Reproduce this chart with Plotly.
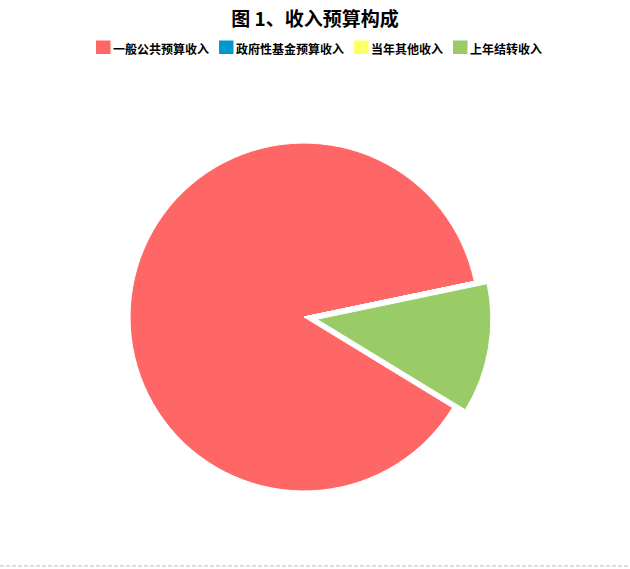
import plotly.graph_objects as go

categories = ["一般公共预算收入", "政府性基金预算收入", "当年其他收入", "上年结转收入"]
values = [88, 0, 0, 12]
colors = ["#FF6666", "#0099CC", "#FFFF66", "#99CC66"]
pulls = [0, 0, 0, 0.075]

W, H = 630, 569

fig = go.Figure(go.Pie(
    labels=categories,
    values=values,
    sort=False,
    direction="clockwise",
    rotation=121.4,
    pull=pulls,
    textinfo="none",
    hoverinfo="label+value+percent",
    marker=dict(colors=colors, line=dict(color="#FFFFFF", width=1)),
    domain=dict(x=[0.1857, 0.7794], y=[0.1142, 0.7715]),
    showlegend=False,
))

# legend drawn as shapes + text, laid out from the category names
shapes = []
annotations = []
sq_w, sq_h, char_w, gap = 14.5, 13.5, 12, 12
x = 96
for name, col in zip(categories, colors):
    shapes.append(dict(type="rect", xref="paper", yref="paper",
                       x0=x / W, x1=(x + sq_w) / W,
                       y0=1 - 54 / H, y1=1 - (54 - sq_h) / H,
                       fillcolor=col, line=dict(width=0)))
    annotations.append(dict(text=f"<b>{name}</b>", xref="paper", yref="paper",
                            x=(x + sq_w + 0.5) / W, y=1 - 48 / H,
                            xanchor="left", yanchor="middle", showarrow=False,
                            font=dict(size=12, family="Noto Sans CJK SC", color="#000000")))
    x += sq_w + 0.5 + char_w * len(name) + gap

shapes.append(dict(type="line", xref="paper", yref="paper", x0=0, x1=1,
                   y0=3 / H, y1=3 / H,
                   line=dict(color="#BBBBBB", width=1, dash="4px,2px")))

fig.update_layout(
    width=W, height=H,
    margin=dict(l=0, r=0, t=0, b=0, autoexpand=False),
    paper_bgcolor="#FFFFFF",
    plot_bgcolor="#FFFFFF",
    font=dict(family="Noto Sans CJK SC", color="#000000"),
    title=dict(text="<b>图 1、收入预算构成</b>", x=0.5, xanchor="center",
               y=1 - 19.5 / H, yanchor="middle",
               font=dict(size=19, family="Noto Sans CJK SC", color="#000000")),
    showlegend=False,
    shapes=shapes,
    annotations=annotations,
)

fig.write_html("out.html",
               config={"displayModeBar": False},
               post_script="document.body.style.margin='0';document.body.style.overflow='hidden';")
